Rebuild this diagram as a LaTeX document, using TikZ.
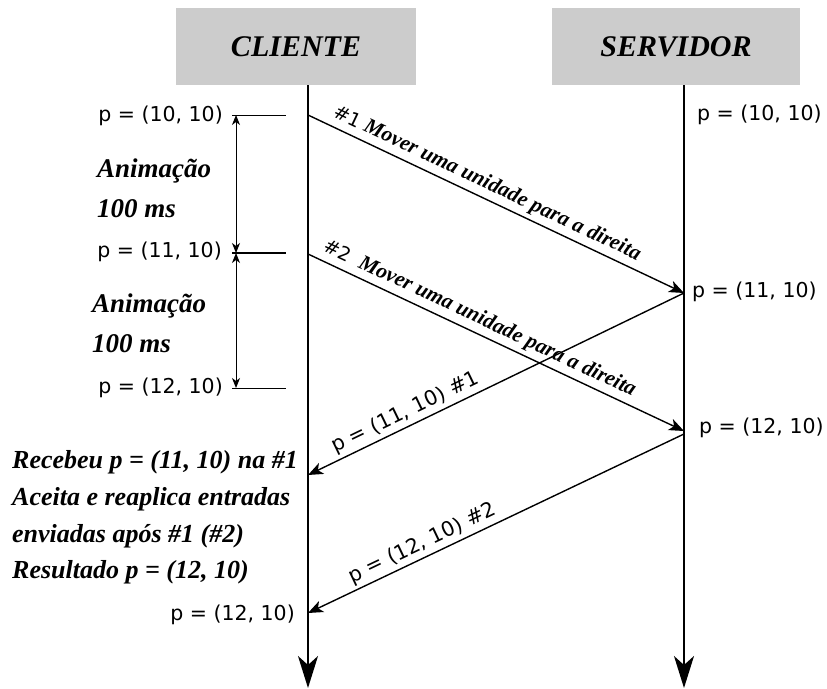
\documentclass[tikz,border=0pt]{standalone}
\usepackage{fontspec}
\setmainfont{Liberation Serif}
\newfontfamily\dejavu{DejaVu Sans}
\usetikzlibrary{arrows.meta}
\definecolor{headgray}{HTML}{CCCCCC}
\newcommand\bfit{\bfseries\itshape}
\begin{document}
\begin{tikzpicture}[x=1pt,y=-1pt,
  header/.style={fill=headgray, draw=none, minimum height=77pt, inner sep=0pt,
    font=\fontsize{30}{36}\selectfont\bfit},
  life/.style={line width=2pt, -{Stealth[length=32pt,width=20pt,inset=9pt]}},
  msg/.style={line width=1.4pt, -{Stealth[length=15pt,width=12pt,inset=4pt]}},
  tick/.style={line width=1pt},
  dim/.style={line width=1pt, {Stealth[length=10pt,width=8pt,inset=3pt]}-{Stealth[length=10pt,width=8pt,inset=3pt]}},
  plabel/.style={font=\dejavu\fontsize{20.5}{24}\selectfont, inner sep=0pt},
  anim/.style={font=\fontsize{27}{32}\selectfont\bfit, inner sep=0pt},
  note/.style={font=\fontsize{26}{30}\selectfont\bfit, inner sep=0pt},
  msglabel/.style={sloped, above, inner sep=4pt, font=\fontsize{21.5}{24}\selectfont},
  replylabel/.style={sloped, above, inner sep=3pt, font=\dejavu\fontsize{20.5}{24}\selectfont},
]
\useasboundingbox (0,0) rectangle (827,688);

% participants
\node[header, minimum width=240pt] (cli) at (296,46.5) {CLIENTE};
\node[header, minimum width=248pt] (srv) at (676,46.5) {SERVIDOR};

% lifelines
\coordinate (ctop) at (308,85);
\coordinate (cbot) at (308,688);
\coordinate (stop) at (684,85);
\coordinate (sbot) at (684,688);
\draw[life] (ctop) -- (cbot);
\draw[life] (stop) -- (sbot);

% message end points
\coordinate (c1) at (308,115);
\coordinate (c2) at (308,254);
\coordinate (c3) at (308,475);
\coordinate (c4) at (308,613);
\coordinate (s1) at (684,293);
\coordinate (s2) at (684,431);
\coordinate (s3) at (684,434);

% inputs sent by the client
\draw[msg] (c1) -- node[msglabel, pos=0.46] {{\dejavu\fontsize{19}{22}\selectfont\#1}\ {\bfit Mover uma unidade para a direita}} (s1);
\draw[msg] (c2) -- node[msglabel, pos=0.44] {{\dejavu\fontsize{19}{22}\selectfont\#2}\ \ {\bfit Mover uma unidade para a direita}} (s2);

% authoritative states from the server
\draw[msg] (s1) -- node[replylabel, pos=0.725] {p = (11, 10) \#1} (c3);
\draw[msg] (s3) -- node[replylabel, pos=0.68] {p = (12, 10) \#2} (c4);

% animation interval marks
\coordinate (m1a) at (232,115); \coordinate (m1b) at (286,115);
\coordinate (m2a) at (232,253); \coordinate (m2b) at (286,253);
\coordinate (m3a) at (232,388); \coordinate (m3b) at (286,388);
\draw[tick] (m1a) -- (m1b);
\draw[line width=2pt] (m2a) -- (m2b);
\draw[tick] (m3a) -- (m3b);
\coordinate (d1) at (236,115);
\coordinate (d2) at (236,253);
\coordinate (d3) at (236,388);
\draw[dim] (d1) -- (d2);
\draw[dim] (d2) -- (d3);

% client-side positions
\node[plabel, anchor=east] (cp1) at (223,116) {p = (10, 10)};
\node[plabel, anchor=east] (cp2) at (222,252) {p = (11, 10)};
\node[plabel, anchor=east] (cp3) at (223,388) {p = (12, 10)};
\node[plabel, anchor=east] (cp4) at (295,615) {p = (12, 10)};

\node[anim, anchor=base west] (a1) at (97,177) {Animação};
\node[anim, anchor=base west] (a1t) at (97,217) {100 ms};
\node[anim, anchor=base west] (a2) at (92,312) {Animação};
\node[anim, anchor=base west] (a2t) at (92,352) {100 ms};

% server-side positions
\node[plabel, anchor=west] (sp1) at (697,115) {p = (10, 10)};
\node[plabel, anchor=west] (sp2) at (692,292) {p = (11, 10)};
\node[plabel, anchor=west] (sp3) at (699,428) {p = (12, 10)};

% reconciliation notes
\node[note, anchor=base west] (n1) at (12,468) {Recebeu p = (11, 10) na \#1};
\node[note, anchor=base west] (n2) at (12,505) {Aceita e reaplica entradas};
\node[note, anchor=base west] (n3) at (12,542) {enviadas após \#1 (\#2)};
\node[note, anchor=base west] (n4) at (12,578) {Resultado p = (12, 10)};
\end{tikzpicture}
\end{document}
